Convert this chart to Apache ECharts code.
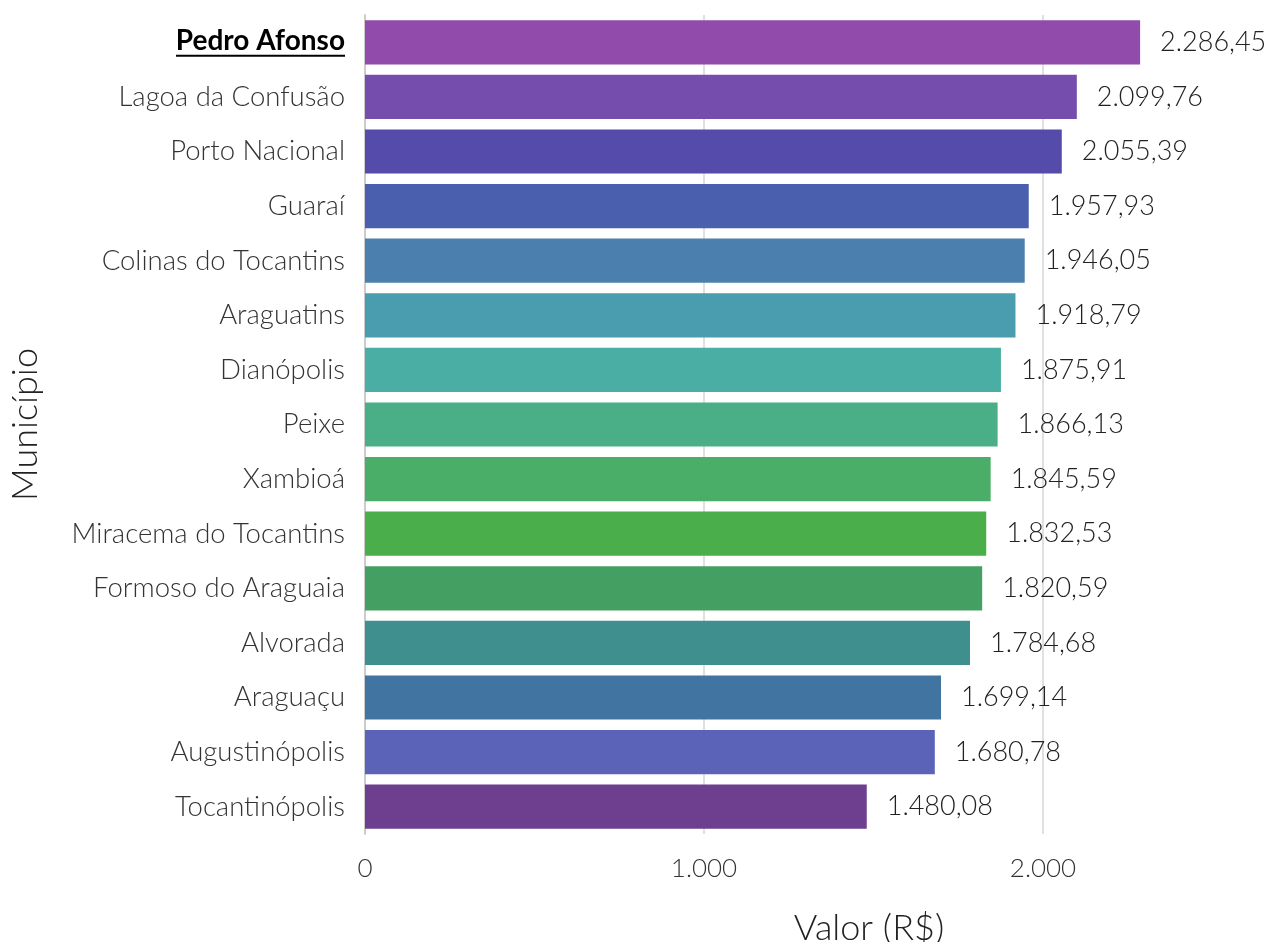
<!DOCTYPE html>
<html>
<head>
<meta charset="utf-8">
<script src="https://cdn.jsdelivr.net/npm/echarts@6/dist/echarts.min.js"></script>
<style>
  html, body { margin: 0; padding: 0; background: #fff; }
  #chart { width: 1271px; height: 942px; }
</style>
</head>
<body>
<div id="chart"></div>
<script>
// municipios, top to bottom
var municipios = [
  "Pedro Afonso", "Lagoa da Confusão", "Porto Nacional", "Guaraí",
  "Colinas do Tocantins", "Araguatins", "Dianópolis", "Peixe", "Xambioá",
  "Miracema do Tocantins", "Formoso do Araguaia", "Alvorada", "Araguaçu",
  "Augustinópolis", "Tocantinópolis"
];
var valores = [
  2286.45, 2099.76, 2055.39, 1957.93, 1946.05, 1918.79, 1875.91, 1866.13,
  1845.59, 1832.53, 1820.59, 1784.68, 1699.14, 1680.78, 1480.08
];
var cores = [
  "#914bab", "#744dad", "#554bab", "#4a60ae", "#4a7fae", "#4a9dae",
  "#4aaea4", "#4aae86", "#4aae68", "#4aae4a", "#449f62", "#3f8f8f",
  "#4174a0", "#5a63b8", "#6e3f8f"
];
var destaque = "Pedro Afonso";
var xTicks = [0, 1000, 2000];

function fmtBR(v, dec) {
  return v.toLocaleString("pt-BR", { minimumFractionDigits: dec, maximumFractionDigits: dec });
}

var FONT = "Lato";
var CAT_SIZE = 27.5;
var BOLD_SIZE = 28;

// largura do texto em negrito, para o sublinhado
var ctx = document.createElement("canvas").getContext("2d");
ctx.font = "700 " + BOLD_SIZE + "px " + FONT;
var underlineW = Math.round(ctx.measureText(destaque).width);

var chart = echarts.init(document.getElementById("chart"));

chart.setOption({
  animation: false,
  grid: { left: 365, top: 15, width: 1017, height: 819, containLabel: false, outerBoundsMode: "none" },
  xAxis: {
    type: "value",
    min: 0,
    max: 3000,
    interval: 1000,
    name: "Valor (R$)",
    nameLocation: "middle",
    nameGap: 76,
    nameTextStyle: { fontFamily: FONT, fontWeight: 300, fontSize: 36, color: "#222", padding: [0, 9, 0, 0] },
    axisLine: { show: false },
    axisTick: { show: false },
    splitLine: { show: true, lineStyle: { color: "#e0e0e0", width: 2 } },
    axisLabel: {
      margin: 22,
      fontFamily: FONT, fontWeight: 300, fontSize: 26, color: "#333",
      formatter: function (v) { return xTicks.indexOf(v) >= 0 ? fmtBR(v, 0) : ""; }
    }
  },
  yAxis: {
    type: "category",
    data: municipios,
    inverse: true,
    name: "Município",
    nameLocation: "middle",
    nameGap: 322,
    nameRotate: 90,
    nameTextStyle: { fontFamily: FONT, fontWeight: 300, fontSize: 36, color: "#222" },
    axisLine: { show: true, lineStyle: { color: "#cccccc", width: 2 } },
    axisTick: { show: false },
    axisLabel: {
      margin: 20,
      fontFamily: FONT, fontWeight: 300, fontSize: CAT_SIZE, color: "#333",
      formatter: function (v) {
        return v === destaque ? "{b|" + v + "}\n{u|}" : v;
      },
      rich: {
        b: { fontFamily: FONT, fontWeight: 700, fontSize: BOLD_SIZE, color: "#000", lineHeight: 27, align: "right" },
        u: { width: underlineW, height: 2, backgroundColor: "#000", lineHeight: 2, align: "right" }
      }
    }
  },
  series: [{
    type: "bar",
    data: valores.map(function (v, i) {
      return { value: v, itemStyle: { color: cores[i] } };
    }),
    barCategoryGap: "19%",
    label: {
      show: true,
      position: "right",
      distance: 20,
      fontFamily: FONT, fontWeight: 300, fontSize: 27, color: "#222",
      formatter: function (p) { return fmtBR(p.value, 2); }
    }
  }]
});
</script>
</body>
</html>
